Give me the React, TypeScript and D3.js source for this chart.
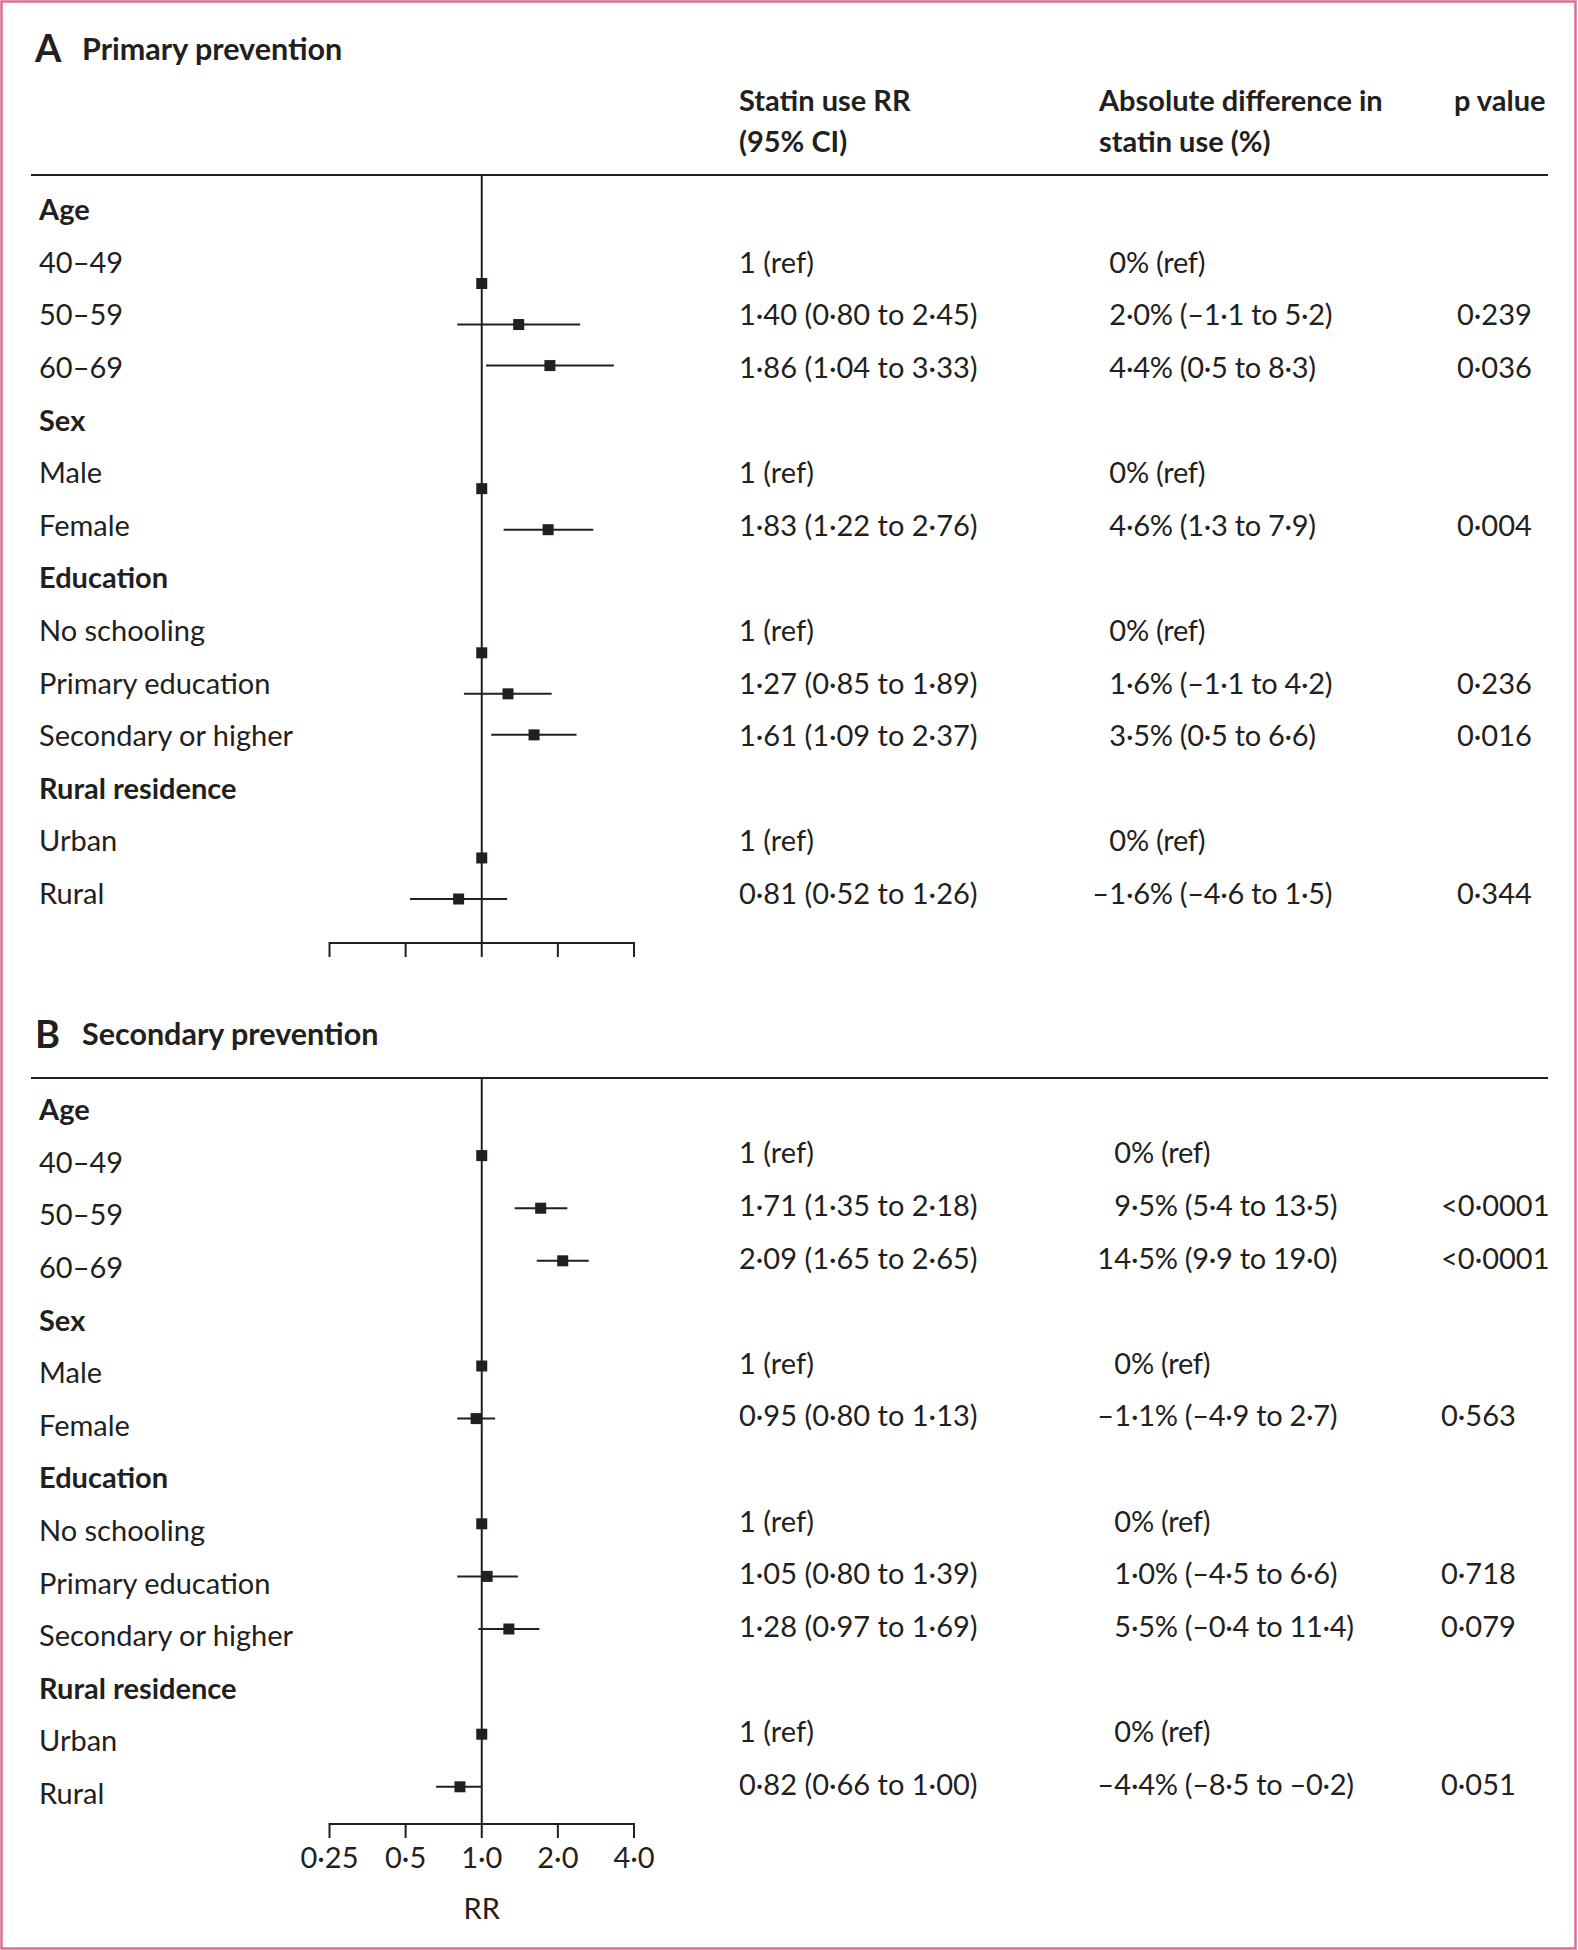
import React from "react";
import * as d3 from "d3";

const rowLabels = ["Age", "40–49", "50–59", "60–69", "Sex", "Male", "Female", "Education", "No schooling", "Primary education", "Secondary or higher", "Rural residence", "Urban", "Rural"];
const isHeader = [true, false, false, false, true, false, false, true, false, false, false, true, false, false];

// Panel A: primary prevention
const rrA = [null, 1, 1.40, 1.86, null, 1, 1.83, null, 1, 1.27, 1.61, null, 1, 0.81];
const lowA = [null, null, 0.80, 1.04, null, null, 1.22, null, null, 0.85, 1.09, null, null, 0.52];
const highA = [null, null, 2.45, 3.33, null, null, 2.76, null, null, 1.89, 2.37, null, null, 1.26];
const rrTextA = ["", "1 (ref)", "1·40 (0·80 to 2·45)", "1·86 (1·04 to 3·33)", "", "1 (ref)", "1·83 (1·22 to 2·76)", "", "1 (ref)", "1·27 (0·85 to 1·89)", "1·61 (1·09 to 2·37)", "", "1 (ref)", "0·81 (0·52 to 1·26)"];
const absTextA = ["", "0% (ref)", "2·0% (–1·1 to 5·2)", "4·4% (0·5 to 8·3)", "", "0% (ref)", "4·6% (1·3 to 7·9)", "", "0% (ref)", "1·6% (–1·1 to 4·2)", "3·5% (0·5 to 6·6)", "", "0% (ref)", "–1·6% (–4·6 to 1·5)"];
const pTextA = ["", "", "0·239", "0·036", "", "", "0·004", "", "", "0·236", "0·016", "", "", "0·344"];

// Panel B: secondary prevention
const rrB = [null, 1, 1.71, 2.09, null, 1, 0.95, null, 1, 1.05, 1.28, null, 1, 0.82];
const lowB = [null, null, 1.35, 1.65, null, null, 0.80, null, null, 0.80, 0.97, null, null, 0.66];
const highB = [null, null, 2.18, 2.65, null, null, 1.13, null, null, 1.39, 1.69, null, null, 1.00];
const rrTextB = ["", "1 (ref)", "1·71 (1·35 to 2·18)", "2·09 (1·65 to 2·65)", "", "1 (ref)", "0·95 (0·80 to 1·13)", "", "1 (ref)", "1·05 (0·80 to 1·39)", "1·28 (0·97 to 1·69)", "", "1 (ref)", "0·82 (0·66 to 1·00)"];
const absTextB = ["", "0% (ref)", "9·5% (5·4 to 13·5)", "14·5% (9·9 to 19·0)", "", "0% (ref)", "–1·1% (–4·9 to 2·7)", "", "0% (ref)", "1·0% (–4·5 to 6·6)", "5·5% (–0·4 to 11·4)", "", "0% (ref)", "–4·4% (–8·5 to –0·2)"];
const pTextB = ["", "", "<0·0001", "<0·0001", "", "", "0·563", "", "", "0·718", "0·079", "", "", "0·051"];

const tickValues = [0.25, 0.5, 1, 2, 4];
const tickLabels = ["0·25", "0·5", "1·0", "2·0", "4·0"];
const headers = [["Statin use RR", "(95% CI)"], ["Absolute difference in", "statin use (%)"], ["p value"]];

const W = 1578;
const H = 1950;
const FONT = "Lato, 'Noto Sans', sans-serif";
const FS = 29;
const INK = "#231f20";

const x = d3.scaleLog().base(2).domain([0.25, 4]).range([329.5, 634]);

type PanelProps = {
  letter: string;
  title: string;
  titleY: number;
  ruleY: number;
  rowY0: number;
  axisY: number;
  rr: (number | null)[];
  low: (number | null)[];
  high: (number | null)[];
  rrText: string[];
  absText: string[];
  pText: string[];
  absDecX: number;
  pX: number;
  textDy: number;
  markerMode: "slot" | "row";
  markerDy: number;
  showHeader: boolean;
  showTickLabels: boolean;
};

function splitAbs(s: string): [string, string] {
  const i = s.indexOf("·");
  const j = s.indexOf("%");
  const k = i >= 0 && i < j ? i : j;
  return [s.slice(0, k), s.slice(k)];
}

function Panel(p: PanelProps) {
  const rowStep = 52.6;
  const rowY = (k: number) => p.rowY0 + k * rowStep;
  // slot positions used for markers in compressed layout
  const slots: number[] = [];
  let s = -1;
  rowLabels.forEach((_, k) => {
    if (isHeader[k]) {
      s += k === 0 ? 0 : 2;
    } else {
      s += 1;
    }
    slots.push(s);
  });
  const slotY = d3.scaleLinear().domain([0, 15]).range([283.5, 899]);
  const markerY = (k: number) => (p.markerMode === "slot" ? slotY(slots[k]) : rowY(k) + p.markerDy);
  const x1 = x(1);
  const sq = 11;

  return (
    <g>
      <text x={35} y={p.titleY} fontSize={38} fontWeight={700} fill={INK} dy="0.35em">{p.letter}</text>
      <text x={82} y={p.titleY} fontSize={30.5} fontWeight={700} fill={INK} dy="0.35em">{p.title}</text>
      {p.showHeader && (
        <g fontWeight={700} fontSize={FS} fill={INK}>
          {[739, 1099, 1454].map((hx, i) =>
            headers[i].map((line, li) => (
              <text key={`${i}-${li}`} x={hx} y={100.7 + li * 41.1} dy="0.35em">{line}</text>
            ))
          )}
        </g>
      )}
      <line x1={31} x2={1548} y1={p.ruleY} y2={p.ruleY} stroke={INK} strokeWidth={2.2} />
      <line x1={x1} x2={x1} y1={p.ruleY} y2={p.axisY} stroke={INK} strokeWidth={2} />
      {rowLabels.map((lab, k) => (
        <text key={`l${k}`} x={39} y={rowY(k)} dy="0.35em" fontSize={FS} fill={INK} fontWeight={isHeader[k] ? 700 : 400}>{lab}</text>
      ))}
      {rowLabels.map((_, k) => {
        if (isHeader[k]) return null;
        const [a, b] = splitAbs(p.absText[k]);
        const ty = rowY(k) + p.textDy;
        return (
          <g key={`t${k}`} fontSize={FS} fill={INK}>
            <text x={739} y={ty} dy="0.35em">{p.rrText[k]}</text>
            <text x={p.absDecX} y={ty} dy="0.35em" textAnchor="end">{a}</text>
            <text x={p.absDecX} y={ty} dy="0.35em" letterSpacing={-0.3}>{b}</text>
            {p.pText[k] && <text x={p.pX} y={ty} dy="0.35em">{p.pText[k]}</text>}
          </g>
        );
      })}
      {rowLabels.map((_, k) => {
        const v = p.rr[k];
        if (v == null) return null;
        const my = markerY(k);
        const lo = p.low[k];
        const hi = p.high[k];
        return (
          <g key={`m${k}`}>
            {lo != null && hi != null && (
              <line x1={x(lo)} x2={x(hi)} y1={my} y2={my} stroke={INK} strokeWidth={2} />
            )}
            <rect x={x(v) - sq / 2} y={my - sq / 2} width={sq} height={sq} fill={INK} />
          </g>
        );
      })}
      <line x1={x(0.25)} x2={x(4)} y1={p.axisY} y2={p.axisY} stroke={INK} strokeWidth={2} />
      {tickValues.map((t, i) => (
        <g key={`tk${i}`}>
          <line x1={x(t)} x2={x(t)} y1={p.axisY - 1} y2={p.axisY + 14} stroke={INK} strokeWidth={2} />
          {p.showTickLabels && (
            <text x={x(t)} y={p.axisY + 34} dy="0.35em" textAnchor="middle" fontSize={FS} fill={INK}>{tickLabels[i]}</text>
          )}
        </g>
      ))}
      {p.showTickLabels && (
        <text x={x1} y={p.axisY + 85} dy="0.35em" textAnchor="middle" fontSize={FS} fill={INK}>RR</text>
      )}
    </g>
  );
}

export default function App() {
  return (
    <svg width={W} height={H} viewBox={`0 0 ${W} ${H}`} style={{ display: "block", position: "absolute", left: 0, top: 0, background: "#fff" }} fontFamily={FONT}>
      <rect x={0} y={0} width={W} height={H} fill="#fff" />
      <rect x={1.5} y={1.5} width={W - 4} height={H - 3} fill="none" stroke="#d9708f" strokeWidth={2.5} />
      <Panel
        letter="A"
        title="Primary prevention"
        titleY={49}
        ruleY={175}
        rowY0={210}
        axisY={943}
        rr={rrA}
        low={lowA}
        high={highA}
        rrText={rrTextA}
        absText={absTextA}
        pText={pTextA}
        absDecX={1126}
        pX={1457}
        textDy={0}
        markerMode="slot"
        markerDy={0}
        showHeader={true}
        showTickLabels={false}
      />
      <Panel
        letter="B"
        title="Secondary prevention"
        titleY={1034.6}
        ruleY={1078}
        rowY0={1110}
        axisY={1824}
        rr={rrB}
        low={lowB}
        high={highB}
        rrText={rrTextB}
        absText={absTextB}
        pText={pTextB}
        absDecX={1131}
        pX={1441}
        textDy={-9.3}
        markerMode="row"
        markerDy={-7}
        showHeader={false}
        showTickLabels={true}
      />
    </svg>
  );
}
